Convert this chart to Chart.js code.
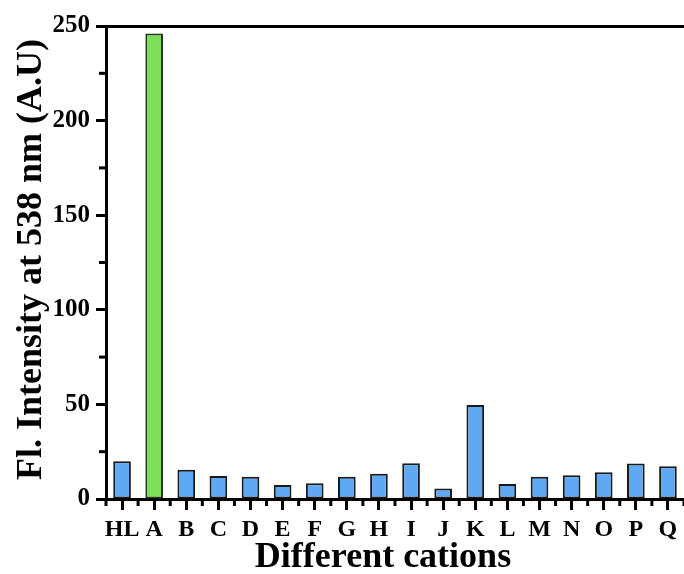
<!DOCTYPE html>
<html>
<head>
<meta charset="utf-8">
<script src="https://cdn.jsdelivr.net/npm/chart.js@4.4.1/dist/chart.umd.min.js"></script>
<style>
  html, body { margin: 0; padding: 0; background: #ffffff; overflow: hidden; }
  #wrap { width: 684px; height: 574px; position: relative; }
</style>
</head>
<body>
<div id="wrap"><canvas id="c" width="684" height="574"></canvas></div>
<script>
const categories = ['HL','A','B','C','D','E','F','G','H','I','J','K','L','M','N','O','P','Q'];
const intensity = [20, 246, 15.5, 12.2, 11.8, 7.4, 8.3, 11.8, 13.4, 18.9, 5.6, 49.7, 7.9, 11.8, 12.5, 14.1, 18.7, 17.3];
const yTicks = [0, 50, 100, 150, 200, 250];
const yMinorTicks = [25, 75, 125, 175, 225];
const highlighted = 'A';
const xTitle = 'Different cations';
const yTitle = 'Fl. Intensity at 538 nm (A.U)';

const FONT = "'Liberation Serif', 'Times New Roman', serif";
const BLUE = '#5ea8f4';
const GREEN = '#7ddf57';

const extrasPlugin = {
  id: 'extras',
  afterDraw(chart) {
    const ctx = chart.ctx;
    const area = chart.chartArea;
    const xs = chart.scales.x;
    const ys = chart.scales.y;
    ctx.save();
    ctx.strokeStyle = '#000';
    ctx.lineWidth = 3;
    ctx.lineCap = 'butt';
    // y minor ticks
    yMinorTicks.forEach(v => {
      const py = ys.getPixelForValue(v);
      ctx.beginPath();
      ctx.moveTo(area.left - 7, py);
      ctx.lineTo(area.left, py);
      ctx.stroke();
    });
    // x minor ticks at category boundaries
    const step = xs.getPixelForValue(1) - xs.getPixelForValue(0);
    for (let i = 0; i <= categories.length; i++) {
      const px = xs.getPixelForValue(0) + (i - 0.5) * step;
      ctx.beginPath();
      ctx.moveTo(px, area.bottom);
      ctx.lineTo(px, area.bottom + 7);
      ctx.stroke();
    }
    // axis titles
    ctx.fillStyle = '#000';
    ctx.font = "bold 36px " + FONT;
    ctx.textAlign = 'center';
    ctx.textBaseline = 'alphabetic';
    ctx.fillText(xTitle, 383, 567);
    ctx.translate(41, (area.top + area.bottom) / 2 - 3);
    ctx.rotate(-Math.PI / 2);
    ctx.fillText(yTitle, 0, 0);
    ctx.restore();
  }
};

new Chart(document.getElementById('c'), {
  type: 'bar',
  data: {
    labels: categories,
    datasets: [{
      data: intensity,
      backgroundColor: ctx => categories[ctx.dataIndex] === highlighted ? GREEN : BLUE,
      borderColor: ctx => categories[ctx.dataIndex] === highlighted ? '#1f3a1a' : '#1a1a1a',
      borderWidth: 2,
      borderSkipped: false,
      categoryPercentage: 1.0,
      barPercentage: 0.55
    }]
  },
  options: {
    responsive: false,
    animation: false,
    devicePixelRatio: 1,
    layout: { padding: 0 },
    plugins: { legend: { display: false }, tooltip: { enabled: false } },
    scales: {
      x: {
        type: 'category',
        position: 'bottom',
        offset: true,
        grid: { display: true, drawOnChartArea: false, drawTicks: true, offset: false, tickLength: 11, tickWidth: 3, tickColor: '#000' },
        border: { display: true, color: '#000', width: 3 },
        ticks: { color: '#000', font: { family: FONT, size: 24, weight: 'bold' }, padding: 5, maxRotation: 0, autoSkip: false },
        afterFit(scale) { scale.height = 75; }
      },
      x2: {
        type: 'category',
        position: 'top',
        labels: categories,
        offset: true,
        grid: { display: false, drawTicks: false },
        border: { display: true, color: '#000', width: 3 },
        ticks: { display: false },
        afterFit(scale) { scale.height = 26; }
      },
      y: {
        type: 'linear',
        position: 'left',
        min: 0,
        max: 250,
        afterBuildTicks(scale) { scale.ticks = yTicks.map(v => ({ value: v })); },
        grid: { display: true, drawOnChartArea: false, drawTicks: true, tickLength: 10, tickWidth: 3, tickColor: '#000' },
        border: { display: true, color: '#000', width: 3 },
        ticks: { color: '#000', font: { family: FONT, size: 25, weight: 'bold' }, padding: 6 },
        afterFit(scale) { scale.width = 106; }
      }
    }
  },
  plugins: [extrasPlugin]
});
</script>
</body>
</html>
